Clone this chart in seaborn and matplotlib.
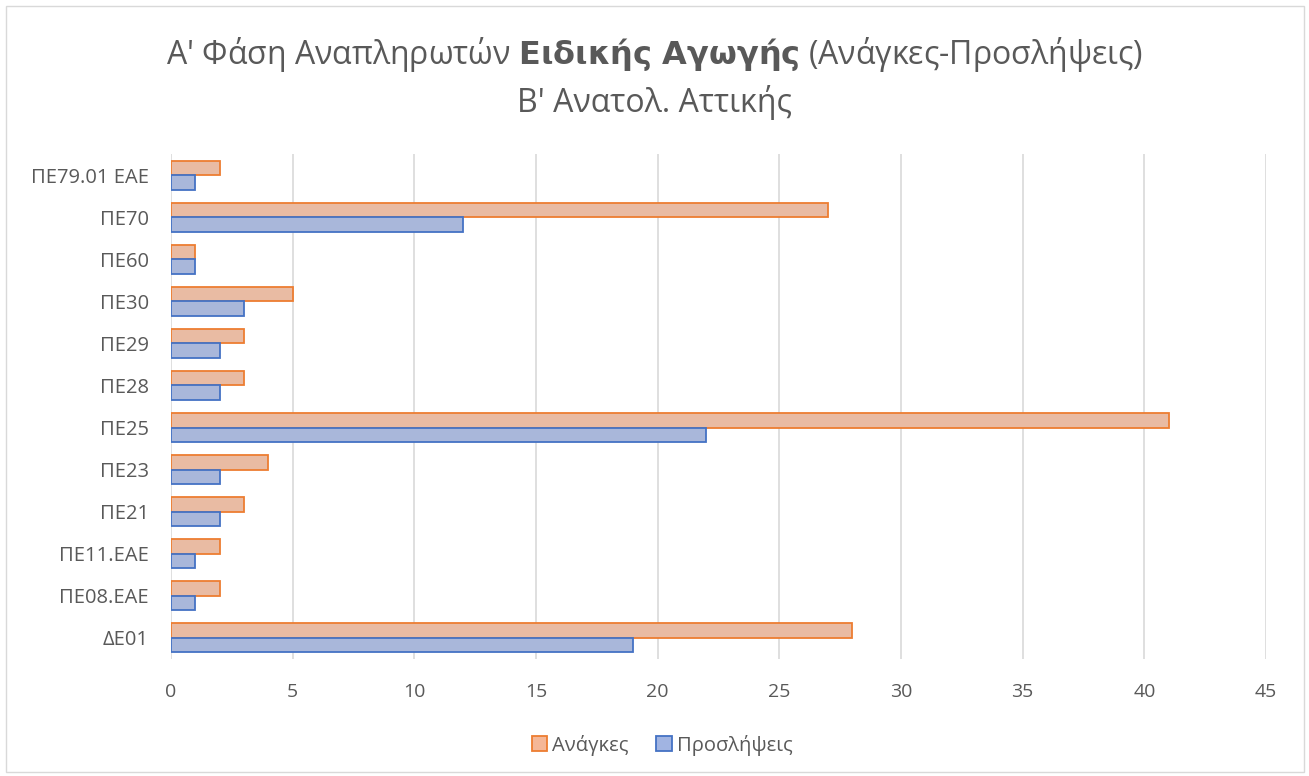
import matplotlib
matplotlib.use("Agg")
import matplotlib.pyplot as plt
import seaborn as sns
import pandas as pd
from matplotlib.patches import Rectangle, Patch

categories = ["ΠΕ79.01 ΕΑΕ", "ΠΕ70", "ΠΕ60", "ΠΕ30", "ΠΕ29", "ΠΕ28",
              "ΠΕ25", "ΠΕ23", "ΠΕ21", "ΠΕ11.ΕΑΕ", "ΠΕ08.ΕΑΕ", "ΔΕ01"]
anagkes = [2, 27, 1, 5, 3, 3, 41, 4, 3, 2, 2, 28]
proslipseis = [1, 12, 1, 3, 2, 2, 22, 2, 2, 1, 1, 19]
series_names = ["Ανάγκες", "Προσλήψεις"]
x_ticks = [0, 5, 10, 15, 20, 25, 30, 35, 40, 45]

df = pd.DataFrame({
    "cat": categories * 2,
    "val": anagkes + proslipseis,
    "series": [series_names[0]] * len(categories) + [series_names[1]] * len(categories),
})

sns.set_theme(style="white")
plt.rcParams["font.family"] = ["Open Sans", "DejaVu Sans"]
txt = "#595959"

fig = plt.figure(figsize=(13.09, 7.76), dpi=100)
ax = fig.add_axes([171/1309, 1-659/776, (1266-171)/1309, (659-154)/776])

fills = {"Ανάγκες": "#F5B797", "Προσλήψεις": "#A1B4E2"}
edges = {"Ανάγκες": "#ED7D31", "Προσλήψεις": "#4472C4"}

sns.barplot(data=df, y="cat", x="val", hue="series", order=categories,
            hue_order=series_names, orient="h", width=0.69, gap=0,
            palette=fills, ax=ax, legend=False, errorbar=None)

for i, cont in enumerate(ax.containers):
    for p in cont.patches:
        p.set_edgecolor(edges[series_names[i]])
        p.set_linewidth(1.3)

ax.set_xlim(0, 45)
ax.set_xticks(x_ticks)
ax.set_xticklabels([str(t) for t in x_ticks])
ax.set_xlabel("")
ax.set_ylabel("")
ax.grid(axis="x", color="#D9D9D9", linewidth=1.2)
ax.set_axisbelow(True)
for s in ax.spines.values():
    s.set_visible(False)
ax.tick_params(axis="both", length=0, labelsize=14, labelcolor=txt)
ax.tick_params(axis="x", pad=17)
ax.tick_params(axis="y", pad=16, labelsize=14.5)

fig.text(0.5, 1-55/776, "Α' Φάση Αναπληρωτών $\\bf{Ειδικής\\ Αγωγής}$ (Ανάγκες-Προσλήψεις)",
         ha="center", va="center", fontsize=23, color=txt)
fig.text(0.5, 1-103/776, "Β' Ανατολ. Αττικής", ha="center", va="center",
         fontsize=23, color=txt)

handles = [Patch(facecolor=fills[n], edgecolor=edges[n], linewidth=1.3, label=n)
           for n in series_names]
leg = fig.legend(handles=handles, loc="center", bbox_to_anchor=(662/1309, 1-745/776),
                 ncol=2, frameon=False, fontsize=14.5, handlelength=0.75,
                 handleheight=0.75, handletextpad=0.25, columnspacing=1.4)
for t in leg.get_texts():
    t.set_color(txt)

fig.patches.append(Rectangle((6/1309, 4/776), 1298/1309, 766/776,
                             transform=fig.transFigure, fill=False,
                             edgecolor="#D9D9D9", linewidth=1))

fig.savefig("out.png", dpi=100)
